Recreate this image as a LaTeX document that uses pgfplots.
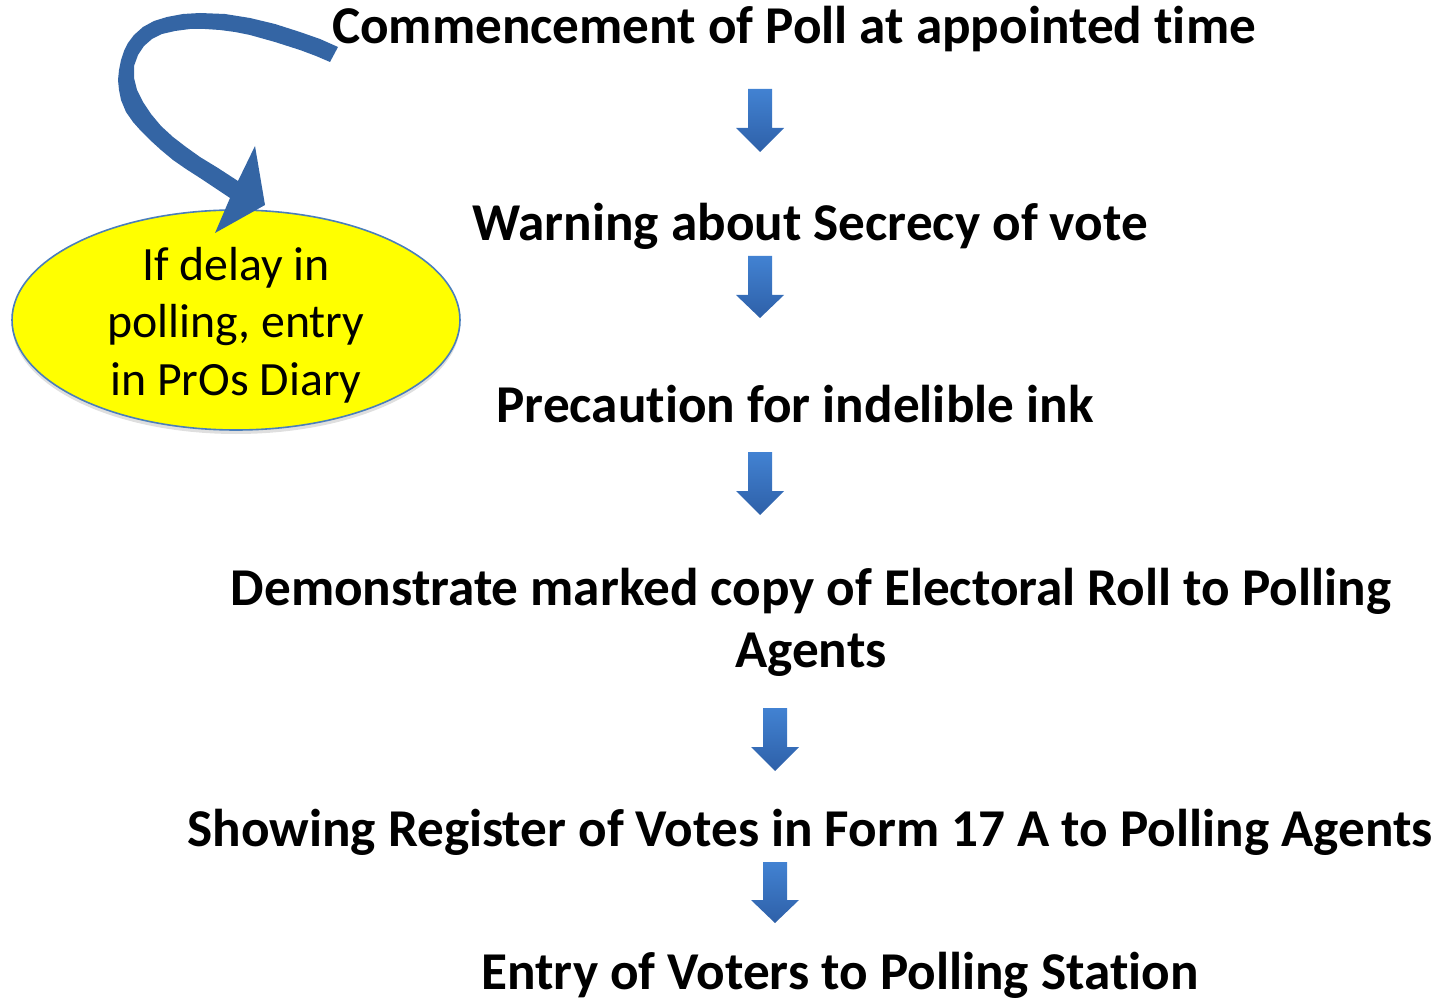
\documentclass[border=0pt]{standalone}
\usepackage{fontspec}
\setmainfont[Ligatures=NoCommon]{Carlito}
\usepackage{pgfplots}
\pgfplotsset{compat=1.18}
\usetikzlibrary{shapes.geometric,shadows}
\definecolor{arrowtop}{RGB}{66,130,210}
\definecolor{arrowbot}{RGB}{46,96,168}
\definecolor{curvefill}{RGB}{52,101,164}
\definecolor{ellborder}{RGB}{74,126,187}
\definecolor{notefill}{RGB}{255,255,0}
\begin{document}
\begin{tikzpicture}
  \begin{axis}[
    x=0.5pt, y=0.5pt,
    y dir=reverse,
    xmin=0, xmax=1439,
    ymin=0, ymax=1003,
    axis lines=none,
    clip=false,
    set layers=standard,
  ]
  % straight down arrows
  \addplot[top color=arrowtop, bottom color=arrowbot, draw=none] coordinates {
    (748,89) (772,89) (772,128) (784,128) (760,152) (736,128) (748,128) (748,89)};
  \addplot[top color=arrowtop, bottom color=arrowbot, draw=none] coordinates {
    (748,256) (772,256) (772,295) (784,295) (760,318) (736,295) (748,295) (748,256)};
  \addplot[top color=arrowtop, bottom color=arrowbot, draw=none] coordinates {
    (748,452) (772,452) (772,491) (784,491) (760,515) (736,491) (748,491) (748,452)};
  \addplot[top color=arrowtop, bottom color=arrowbot, draw=none] coordinates {
    (763,708) (787,708) (787,747) (799,747) (775,771) (751,747) (763,747) (763,708)};
  \addplot[top color=arrowtop, bottom color=arrowbot, draw=none] coordinates {
    (763,862) (787,862) (787,900) (799,900) (775,923) (751,900) (763,900) (763,862)};

  % side note
  \begin{pgfonlayer}{axis background}
  \node[ellipse, fill=notefill, draw=ellborder, line width=0.8pt,
        minimum width=224pt, minimum height=110pt, inner sep=0pt,
        drop shadow={shadow xshift=0pt, shadow yshift=-2pt, opacity=0.25}]
    at (axis cs:236,320) {};
  \node[align=center, font=\fontsize{23.9}{28.75}\selectfont]
    at (axis cs:236,325) {If delay in\\polling, entry\\in PrOs Diary};
  \end{pgfonlayer}

  % curved arrow into the note
  \addplot[fill=curvefill, draw=none, on layer=axis foreground] coordinates {
    (338,47) (320,39) (300,32) (275,24) (250,18) (225,14) (200,13) (183,14)
    (167,17) (154,21) (143,27) (134,35) (128,43) (124,51) (121,60) (119,70)
    (118,80) (119,90) (121,100) (126,112) (133,122) (141,131) (150,140)
    (161,150) (173,160) (186,169) (200,178) (215,188) (230,198)
    (215,233) (265,205) (255,146)
    (238,181) (218,168) (200,157) (186,147) (173,137) (161,126) (151,114)
    (143,102) (137,90) (134,78) (134,66) (138,55) (144,46) (152,39) (162,34)
    (175,31) (190,29) (205,29) (220,30) (235,32) (250,35) (275,42) (300,50)
    (316,56) (330,62) (338,47)};

  % steps
  \begin{scope}[every node/.style={anchor=base, font=\fontsize{26.6}{32}\selectfont\bfseries}]
  \node at (axis cs:794,44) {Commencement of Poll at appointed time};
  \node at (axis cs:810,241) {Warning about Secrecy of vote};
  \node at (axis cs:795,422) {Precaution for indelible ink};
  \node at (axis cs:811,605) {Demonstrate marked copy of Electoral Roll to Polling};
  \node at (axis cs:811,667) {Agents};
  \node at (axis cs:810,846) {Showing Register of Votes in Form 17 A to Polling Agents};
  \node at (axis cs:840,989) {Entry of Voters to Polling Station};
  \end{scope}
  \end{axis}
  \pgfresetboundingbox
  \path[use as bounding box] (current axis.south west) rectangle (current axis.north east);
\end{tikzpicture}
\end{document}
